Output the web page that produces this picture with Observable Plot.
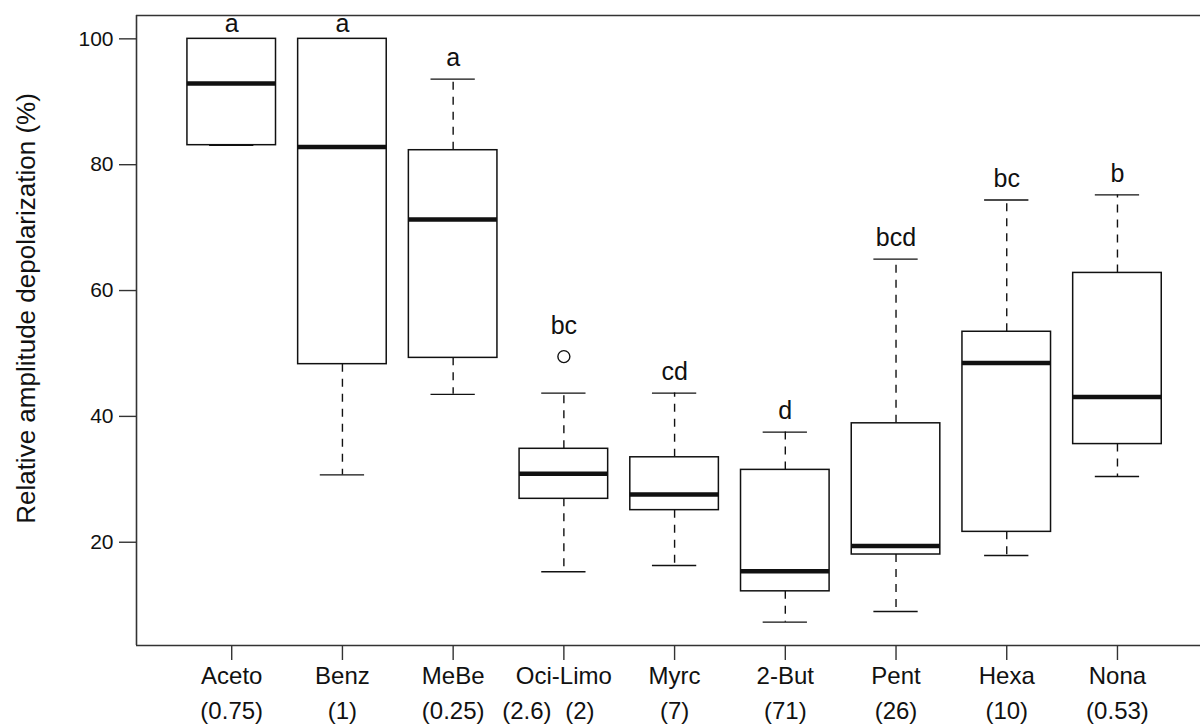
<!DOCTYPE html>
<html>
<head>
<meta charset="utf-8">
<script src="https://cdn.jsdelivr.net/npm/d3@7"></script>
<script src="https://cdn.jsdelivr.net/npm/@observablehq/plot@0.6"></script>
<style>
  html, body { margin: 0; padding: 0; background: #fff; overflow: hidden; }
  #chart svg { display: block; }
</style>
</head>
<body>
<div id="chart"></div>
<script>
// ---- data ----
const categories = ["Aceto", "Benz", "MeBe", "Oci-Limo", "Myrc", "2-But", "Pent", "Hexa", "Nona"];
const subLabels  = ["(0.75)", "(1)", "(0.25)", null, "(7)", "(71)", "(26)", "(10)", "(0.53)"];
const ociSubLeft = "(2.6)";
const ociSubRight = "(2)";
const lowWhisker  = [83.1, 30.7, 43.5, 15.3, 16.3, 7.3, 9.0, 17.9, 30.45];
const q1          = [83.1, 48.3, 49.3, 26.9, 25.1, 12.2, 18.05, 21.65, 35.6];
const medians     = [92.9, 82.8, 71.3, 30.9, 27.6, 15.4, 19.4, 48.5, 43.1];
const q3          = [100, 100, 82.3, 34.85, 33.5, 31.5, 38.9, 53.45, 62.8];
const highWhisker = [100, 100, 93.6, 43.7, 43.7, 37.5, 65.0, 74.4, 75.2];
const outlierCats = ["Oci-Limo"];
const outlierVals = [49.5];
const letters     = ["a", "a", "a", "bc", "cd", "d", "bcd", "bc", "b"];
const yTicks      = [20, 40, 60, 80, 100];
const yTitle      = "Relative amplitude depolarization (%)";

// ---- table built from the arrays ----
const rows = categories.map((c, k) => {
  const outs = outlierVals.filter((v, j) => outlierCats[j] === c);
  const top = outs.length ? Math.max(...outs) + 1.5 : highWhisker[k];
  return {
    i: k + 1, cat: c, sub: subLabels[k],
    lo: lowWhisker[k], q1: q1[k], med: medians[k], q3: q3[k], hi: highWhisker[k],
    letter: letters[k], letterY: Math.min(top + 2.1, 101.1)
  };
});
const outliers = outlierCats.map((c, j) => ({ i: categories.indexOf(c) + 1, v: outlierVals[j] }));
const ociRow = rows.filter(d => d.cat === "Oci-Limo");

const xDomain = [0.14, 9.75];
const yDomain = [3.59, 103.71];
const half = 0.4, cap = 0.2;
const ink = "#111";

const chart = Plot.plot({
  width: 1200,
  height: 726,
  marginLeft: 136,
  marginRight: 0,
  marginTop: 15,
  marginBottom: 81,
  style: { fontFamily: "'Liberation Sans', Arial, sans-serif", background: "#fff", color: ink },
  x: { type: "linear", domain: xDomain },
  y: { domain: yDomain },
  marks: [
    // frame (top, bottom, left; right edge lies beyond the picture)
    Plot.ruleY([yDomain[0], yDomain[1]], { stroke: "#333", strokeWidth: 1.6 }),
    Plot.ruleX([xDomain[0]], { stroke: "#333", strokeWidth: 1.6 }),
    // whiskers (dashed)
    Plot.ruleX(rows, { x: "i", y1: "q3", y2: "hi", stroke: ink, strokeWidth: 1.4, strokeDasharray: "8,7" }),
    Plot.ruleX(rows, { x: "i", y1: "q1", y2: "lo", stroke: ink, strokeWidth: 1.4, strokeDasharray: "8,7" }),
    // whisker caps
    Plot.ruleY(rows, { y: "hi", x1: d => d.i - cap, x2: d => d.i + cap, stroke: ink, strokeWidth: 1.4 }),
    Plot.ruleY(rows, { y: "lo", x1: d => d.i - cap, x2: d => d.i + cap, stroke: ink, strokeWidth: 1.4 }),
    // boxes
    Plot.rect(rows, { x1: d => d.i - half, x2: d => d.i + half, y1: "q1", y2: "q3", fill: "#fff", stroke: ink, strokeWidth: 1.5 }),
    // medians
    Plot.ruleY(rows, { y: "med", x1: d => d.i - half, x2: d => d.i + half, stroke: ink, strokeWidth: 4.5 }),
    // outliers
    Plot.dot(outliers, { x: "i", y: "v", r: 6, stroke: ink, strokeWidth: 1.4, fill: "none" }),
    // significance letters
    Plot.text(rows, { x: "i", y: "letterY", text: "letter", fontSize: 25, lineAnchor: "bottom", fill: ink }),
    // axes
    Plot.axisY({ ticks: yTicks, tickSize: 17, tickPadding: 6, fontSize: 21, label: null, stroke: "#333", strokeWidth: 1.4 }),
    Plot.axisX({ ticks: rows.map(d => d.i), tickFormat: i => categories[i - 1], tickSize: 15, tickPadding: 6, fontSize: 24, label: null, stroke: "#333", strokeWidth: 1.4 }),
    // second line of category labels
    Plot.text(rows.filter(d => d.sub), { x: "i", text: "sub", frameAnchor: "bottom", dy: 73, lineAnchor: "bottom", fontSize: 24, fill: ink }),
    Plot.text(ociRow, { x: "i", text: () => ociSubLeft, frameAnchor: "bottom", dx: -37, dy: 73, lineAnchor: "bottom", fontSize: 24, fill: ink }),
    Plot.text(ociRow, { x: "i", text: () => ociSubRight, frameAnchor: "bottom", dx: 16, dy: 73, lineAnchor: "bottom", fontSize: 24, fill: ink }),
    // y-axis title
    Plot.text([yTitle], { text: d => d, frameAnchor: "left", textAnchor: "middle", rotate: -90, dx: -110, dy: -22, lineAnchor: "middle", fontSize: 26, fill: ink })
  ]
});
document.getElementById("chart").appendChild(chart);
</script>
</body>
</html>
